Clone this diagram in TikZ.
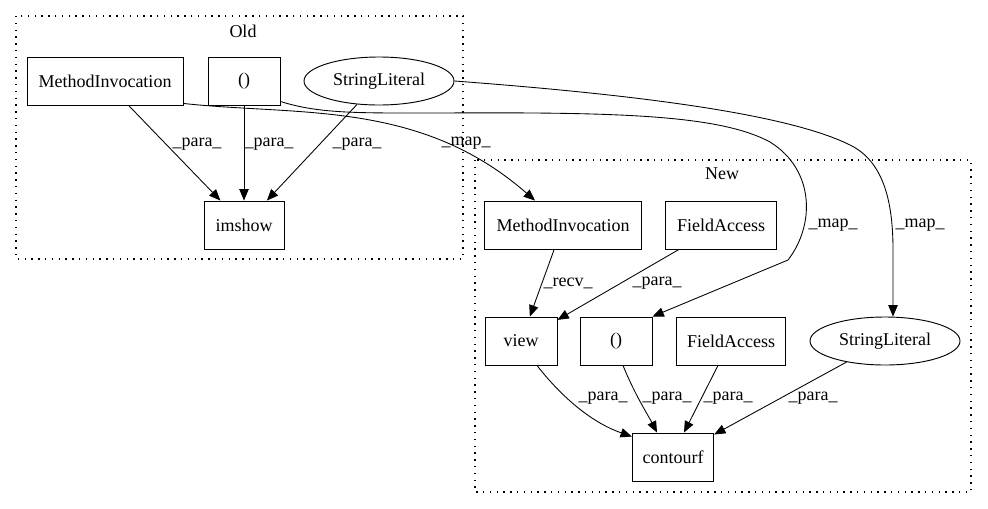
\documentclass[tikz,border=0pt]{standalone}
\usepackage{fontspec}
\setmainfont{Liberation Serif}
\usetikzlibrary{arrows.meta,calc,shapes.geometric}
\tikzset{
  box/.style={draw, line width=0.7pt, rectangle, minimum height=36pt, inner sep=0pt},
  ell/.style={draw, line width=0.7pt, ellipse, minimum width=112.5pt, minimum height=36pt, inner sep=0pt},
  arr/.style={line width=0.65pt, -{Triangle[length=8.5pt,width=7pt]}},
  lbl/.style={inner sep=0pt},
  cluster/.style={line width=0.9pt, dash pattern=on 1.1pt off 4pt},
}
\begin{document}
\begin{tikzpicture}[x=0.75pt, y=-0.75pt, font=\fontsize{13.5}{16}\selectfont]
\useasboundingbox (0,0) rectangle (988,508);
% clusters
\draw[cluster] (16,16) rectangle (463,259);
\node[lbl] (oldlbl) at (243,31) {Old};
\draw[cluster] (475,160) rectangle (971,492);
\node[lbl] (newlbl) at (722,174) {New};
% old nodes
\node[box, minimum width=117pt] (oMI) at (105,81) {MethodInvocation};
\node[box, minimum width=54pt] (oP) at (244,81) {()};
\node[ell] (oSL) at (379,81) {StringLiteral};
\node[box, minimum width=60pt] (imshow) at (244,225) {imshow};
% new nodes
\node[box, minimum width=118pt] (nMI) at (563,225) {MethodInvocation};
\node[box, minimum width=83pt] (nFA1) at (721,225) {FieldAccess};
\node[box, minimum width=54pt] (view) at (521,341) {view};
\node[box, minimum width=54pt] (nP) at (616,341) {()};
\node[box, minimum width=82pt] (nFA2) at (731,341) {FieldAccess};
\node[ell] (nSL) at (885,341) {StringLiteral};
\node[box, minimum width=61pt] (contourf) at (673,457) {contourf};
% old edges
\draw[arr] (oMI) -- (imshow);
\draw[arr] (oP) -- (imshow);
\draw[arr] (oSL) -- (imshow);
\node[lbl] (l1) at (197,144) {\_para\_};
\node[lbl] (l2) at (269,144) {\_para\_};
\node[lbl] (l3) at (357,144) {\_para\_};
% map edges
\draw[arr] ($(oMI.south east)+(0,-2)$) .. controls (300,116) and (420,100) .. ($(nMI.north)+(-28,0)$);
\node[lbl] (l4) at (466,143) {\_map\_};
\draw[arr] ($(oP.south east)+(0,-4)$) .. controls (320,114) and (360,113) .. (440,113)
  .. controls (620,112) and (720,115) .. (770,142)
  .. controls (815,170) and (815,225) .. (788,260) -- (nP.north east);
\node[lbl] (l5) at (833,225) {\_map\_};
\draw[arr] (oSL.east) .. controls (600,92) and (780,110) .. (850,145)
  .. controls (885,162) and (893,205) .. (893,250) -- ($(nSL.north)+(8,0)$);
\node[lbl] (l6) at (920,225) {\_map\_};
% new edges
\draw[arr] (nMI) -- (view);
\node[lbl] (l7) at (568,283) {\_recv\_};
\draw[arr] (nFA1) -- (view);
\node[lbl] (l8) at (657,283) {\_para\_};
\draw[arr] ($(view.south)+(16,0)$) .. controls (560,395) and (590,422) .. ($(contourf.north west)+(0,4)$);
\draw[arr] ($(nP.south)+(7,0)$) .. controls (635,395) and (648,415) .. ($(contourf.north)+(-16,0)$);
\draw[arr] ($(nFA2.south)+(-13,0)$) -- ($(contourf.north)+(11,0)$);
\draw[arr] (nSL) -- (contourf);
\node[lbl] (l9) at (603,398) {\_para\_};
\node[lbl] (l10) at (667,398) {\_para\_};
\node[lbl] (l11) at (728,398) {\_para\_};
\node[lbl] (l12) at (813,398) {\_para\_};
\end{tikzpicture}
\end{document}
